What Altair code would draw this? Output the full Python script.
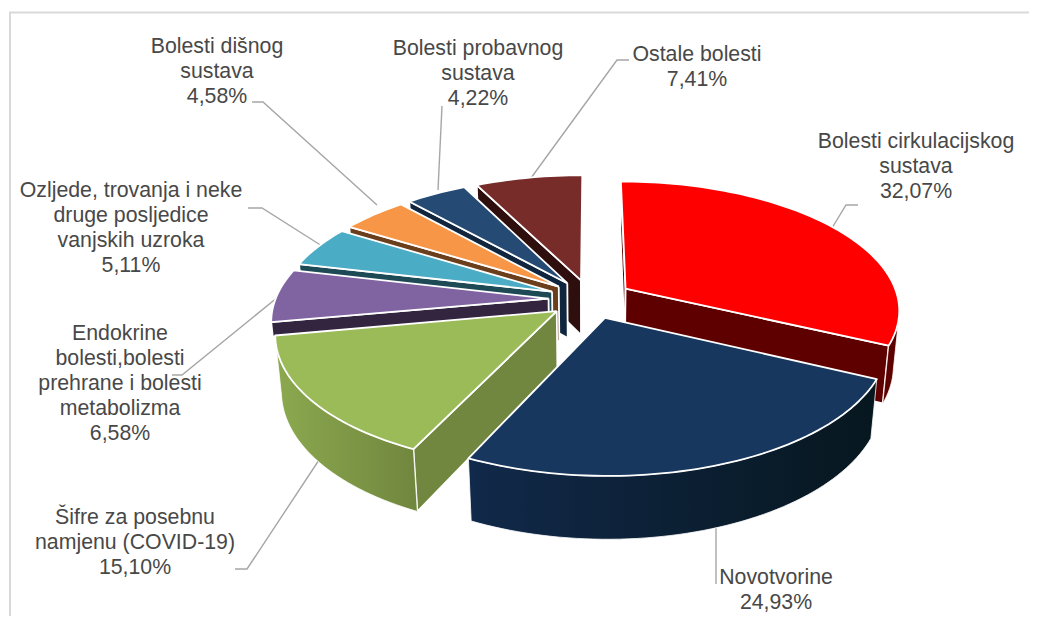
import math
import altair as alt
import pandas as pd

names = ["Bolesti cirkulacijskog sustava", "Novotvorine", "Šifre za posebnu namjenu (COVID-19)",
         "Endokrine bolesti,bolesti prehrane i bolesti metabolizma",
         "Ozljede, trovanja i neke druge posljedice vanjskih uzroka",
         "Bolesti dišnog sustava", "Bolesti probavnog sustava", "Ostale bolesti"]
values = [32.07, 24.93, 15.10, 6.58, 5.11, 4.58, 4.22, 7.41]
top_colors = ["#FF0000", "#17375E", "#9BBB59", "#8064A2", "#4BACC6", "#F79646", "#254B75", "#772C2A"]
cut_colors = ["#5F0000", "#0C1E33", "#71873F", "#33243F", "#1D4A55", "#6B3E1C", "#10263F", "#2E0F0E"]
wall_from = ["#600000", "#11294A", "#8CA94F", "#33243F", "#1D4A55", "#6B3E1C", "#10263F", "#2E0F0E"]
wall_to = ["#5A0000", "#07171F", "#70863E", "#33243F", "#1D4A55", "#6B3E1C", "#10263F", "#2E0F0E"]
label_lines = [["Bolesti cirkulacijskog", "sustava", "32,07%"],
               ["Novotvorine", "24,93%"],
               ["Šifre za posebnu", "namjenu (COVID-19)", "15,10%"],
               ["Endokrine", "bolesti,bolesti", "prehrane i bolesti", "metabolizma", "6,58%"],
               ["Ozljede, trovanja i neke", "druge posljedice", "vanjskih uzroka", "5,11%"],
               ["Bolesti dišnog", "sustava", "4,58%"],
               ["Bolesti probavnog", "sustava", "4,22%"],
               ["Ostale bolesti", "7,41%"]]
label_centers = [916, 776, 135, 120, 131, 217, 478, 697]
label_tops = [142, 578, 518, 334, 191, 47, 49, 55]
leaders = [[(832, 228), (846, 205), (858, 205)],
           [(716, 528), (716, 584)],
           [(319, 460), (247, 569), (235, 569)],
           [(278, 297), (182, 375), (172, 375)],
           [(322, 246), (262, 208), (248, 208)],
           [(377, 205), (263, 102), (252, 102)],
           [(438, 190), (442, 106)],
           [(531, 178), (617, 60), (629, 60)]]

# perspective model of the tilted, exploded pie
CX, CY, R, DEPTH, EXPLODE = 590.5, 299.0, 273.0, 64.0, 42.0
SIN_A = 0.465
COS_A = math.sqrt(1 - SIN_A ** 2)
CAM = 1550.0
START = 0.0
WALL_DEPTH = {3: 16.0}


def project(x, y, z):
    up = y * SIN_A + z * COS_A
    d = y * COS_A - z * SIN_A
    s = CAM / (CAM + d)
    return CX + x * s, CY - up * s


def rim(theta, ox, oy, z):
    t = math.radians(theta)
    return project(ox + R * math.sin(t), oy + R * math.cos(t), z)


def area2(pts):
    return sum(pts[i][0] * pts[(i + 1) % len(pts)][1] - pts[(i + 1) % len(pts)][0] * pts[i][1]
               for i in range(len(pts)))


X_SCALE = alt.Scale(domain=[8, 1029], nice=False, zero=False)
Y_SCALE = alt.Scale(domain=[616, 8], nice=False, zero=False)


def poly(pts, fill, stroke="#FFFFFF", width=1.8):
    closed = list(pts) + [pts[0]]
    df = pd.DataFrame({"x": [p[0] for p in closed], "y": [p[1] for p in closed], "i": range(len(closed))})
    return alt.Chart(df).mark_line(fill=fill, stroke=stroke, strokeWidth=width, strokeJoin="round", clip=False).encode(
        x=alt.X("x:Q", scale=X_SCALE, axis=None),
        y=alt.Y("y:Q", scale=Y_SCALE, axis=None),
        order="i:Q")


layers = []

# frame: left and top edges only reach the picture
frame = pd.DataFrame({"x": [10, 10, 1029], "y": [616, 12.5, 12.5], "i": range(3)})
layers.append(alt.Chart(frame).mark_line(stroke="#D9D9D9", strokeWidth=2).encode(
    x=alt.X("x:Q", scale=X_SCALE, axis=None), y=alt.Y("y:Q", scale=Y_SCALE, axis=None), order="i:Q"))

# leader lines
for pts in leaders:
    df = pd.DataFrame({"x": [p[0] for p in pts], "y": [p[1] for p in pts], "i": range(len(pts))})
    layers.append(alt.Chart(df).mark_line(stroke="#A6A6A6", strokeWidth=1.4).encode(
        x=alt.X("x:Q", scale=X_SCALE, axis=None), y=alt.Y("y:Q", scale=Y_SCALE, axis=None), order="i:Q"))

# slices, back to front
total = sum(values)
spans = []
a = START
for v in values:
    b = a + v / total * 360
    spans.append((a, b))
    a = b
draw_order = [7, 6, 5, 4, 3, 0, 2, 1]
silhouette = math.degrees(math.acos(R / (CAM * COS_A)))
for k in draw_order:
    a0, a1 = spans[k]
    mid = math.radians((a0 + a1) / 2)
    ox, oy = EXPLODE * math.sin(mid), EXPLODE * math.cos(mid)
    n = max(4, int((a1 - a0) / 1.5))
    thetas = [a0 + (a1 - a0) * i / n for i in range(n + 1)]
    depth = WALL_DEPTH.get(k, DEPTH)
    apex_t = project(ox, oy, 0)
    apex_b = project(ox, oy, -depth)
    # radial walls
    for ang, sign in ((a0, 1), (a1, -1)):
        quad = [apex_t, rim(ang, ox, oy, 0), rim(ang, ox, oy, -depth), apex_b]
        if area2(quad) * sign < 0:
            layers.append(poly(quad, cut_colors[k]))
    # outer wall
    lo, hi = max(a0, 180 - silhouette), min(a1, 180 + silhouette)
    if hi > lo:
        m = max(3, int((hi - lo) / 1.5))
        ts = [lo + (hi - lo) * i / m for i in range(m + 1)]
        wall = [rim(t, ox, oy, 0) for t in ts] + [rim(t, ox, oy, -depth) for t in reversed(ts)]
        grad = alt.Gradient(gradient="linear", x1=0, x2=1, y1=0, y2=0,
                            stops=[alt.GradientStop(color=wall_from[k], offset=0),
                                   alt.GradientStop(color=wall_to[k], offset=1)])
        layers.append(poly(wall, grad, width=0.8))
    # top
    layers.append(poly([apex_t] + [rim(t, ox, oy, 0) for t in thetas], top_colors[k]))

# labels
LINE = 25.0
rows = []
for lines, cx_, top in zip(label_lines, label_centers, label_tops):
    for j, s in enumerate(lines):
        rows.append({"x": cx_, "y": top + LINE * j, "t": s})
layers.append(alt.Chart(pd.DataFrame(rows)).mark_text(
    font="Liberation Sans", fontSize=21.3, color="#484848", align="center", baseline="middle").encode(
    x=alt.X("x:Q", scale=X_SCALE, axis=None), y=alt.Y("y:Q", scale=Y_SCALE, axis=None), text="t:N"))

chart = alt.layer(*layers).properties(
    width=1021, height=608, padding=0, autosize=alt.AutoSizeParams(type="none"),
    background="#FFFFFF", view=alt.ViewConfig(stroke=None))
chart.save("out.html", embed_options={"renderer": "svg", "actions": False})
